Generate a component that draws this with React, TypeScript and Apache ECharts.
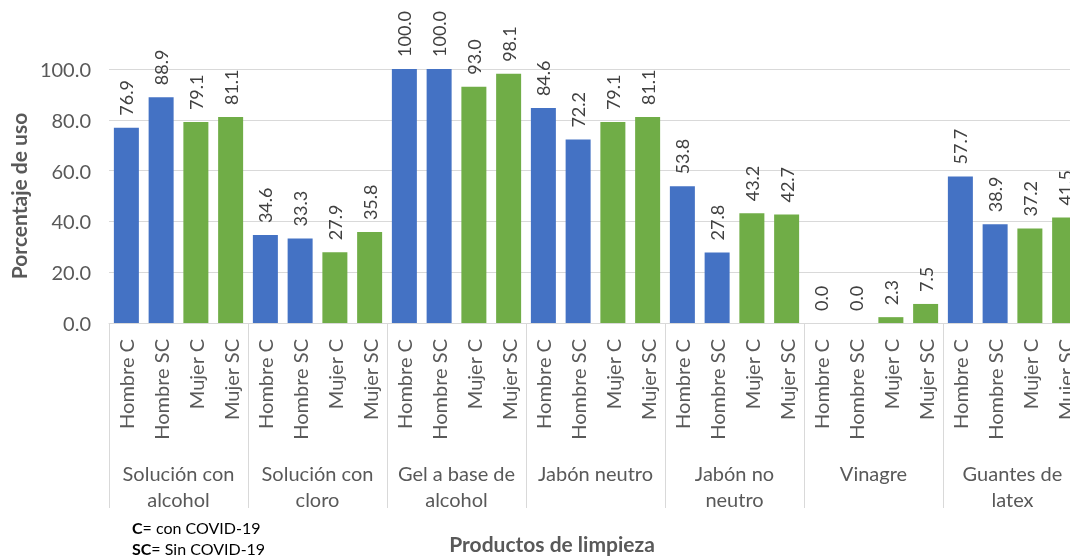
import React, { useEffect, useRef } from "react";
import * as echarts from "echarts";

// Product groups (outer category level)
const products = [
  "Solución con\nalcohol",
  "Solución con\ncloro",
  "Gel a base de\nalcohol",
  "Jabón neutro",
  "Jabón no\nneutro",
  "Vinagre",
  "Guantes de\nlatex",
];

// Respondent groups (inner category level)
const subgroups = ["Hombre C", "Hombre SC", "Mujer C", "Mujer SC"];

// Percentage of use per product, one array per respondent group
const hombreC = [76.9, 34.6, 100.0, 84.6, 53.8, 0.0, 57.7];
const hombreSC = [88.9, 33.3, 100.0, 72.2, 27.8, 0.0, 38.9];
const mujerC = [79.1, 27.9, 93.0, 79.1, 43.2, 2.3, 37.2];
const mujerSC = [81.1, 35.8, 98.1, 81.1, 42.7, 7.5, 41.5];

const yTicks = { min: 0, max: 100, interval: 20 };

const BLUE = "#4472C4";
const GREEN = "#70AD47";
const FONT = "Lato, 'Noto Sans', sans-serif";

export default function App() {
  const ref = useRef<HTMLDivElement>(null);

  useEffect(() => {
    document.body.style.margin = "0";
    if (!ref.current) return;
    const chart = echarts.init(ref.current, null, { renderer: "svg" });

    const bySub = [hombreC, hombreSC, mujerC, mujerSC];
    const innerCats: string[] = [];
    const values: number[] = [];
    products.forEach((_, pi) => {
      subgroups.forEach((s, si) => {
        innerCats.push(s);
        values.push(bySub[si][pi]);
      });
    });

    chart.setOption({
      animation: false,
      textStyle: { fontFamily: FONT },
      grid: {
        left: 109,
        top: 69,
        width: 973,
        height: 254,
        containLabel: false,
        outerBoundsMode: "none",
      },
      xAxis: [
        {
          type: "category",
          data: innerCats,
          position: "bottom",
          axisLine: { show: true, lineStyle: { color: "#d9d9d9", width: 1 } },
          axisTick: { show: false },
          axisLabel: {
            interval: 0,
            rotate: 90,
            margin: 16,
            fontSize: 20,
            color: "#595959",
            fontFamily: FONT,
          },
        },
        {
          type: "category",
          data: products,
          position: "bottom",
          offset: 0,
          axisLine: { show: false },
          axisTick: {
            show: true,
            length: 185,
            lineStyle: { color: "#d9d9d9", width: 1 },
          },
          axisLabel: {
            interval: 0,
            margin: 137,
            fontSize: 20,
            lineHeight: 26,
            color: "#595959",
            fontFamily: FONT,
          },
        },
      ],
      yAxis: {
        type: "value",
        min: yTicks.min,
        max: yTicks.max,
        interval: yTicks.interval,
        name: "Porcentaje de uso",
        nameLocation: "middle",
        nameRotate: 90,
        nameGap: 80,
        nameTextStyle: {
          fontSize: 21,
          fontWeight: "bold",
          color: "#595959",
          fontFamily: FONT,
        },
        axisLine: { show: false },
        axisTick: { show: false },
        axisLabel: {
          margin: 18,
          fontSize: 20,
          color: "#595959",
          fontFamily: FONT,
          formatter: (v: number) => v.toFixed(1),
        },
        splitLine: { lineStyle: { color: "#d9d9d9", width: 1 } },
      },
      series: [
        {
          type: "bar",
          xAxisIndex: 0,
          data: values,
          barWidth: 25,
          itemStyle: {
            color: (p: any) => (p.dataIndex % 4 < 2 ? BLUE : GREEN),
          },
          label: {
            show: true,
            position: "top",
            rotate: 90,
            align: "left",
            verticalAlign: "middle",
            distance: 12,
            fontSize: 18,
            color: "#404040",
            fontFamily: FONT,
            formatter: (p: any) => Number(p.value).toFixed(1),
          },
        },
      ],
      graphic: [
        {
          type: "text",
          left: 132,
          top: 517,
          style: {
            text: "{b|C}= con COVID-19\n{b|SC}= Sin COVID-19",
            fontSize: 16,
            lineHeight: 21,
            fill: "#000",
            fontFamily: FONT,
            rich: {
              b: { fontWeight: "bold", fontSize: 16, fontFamily: FONT, fill: "#000" },
            },
          },
        },
        {
          type: "text",
          x: 552,
          y: 543,
          style: {
            text: "Productos de limpieza",
            fontSize: 21,
            fontWeight: "bold",
            fill: "#595959",
            fontFamily: FONT,
            align: "center",
            verticalAlign: "middle",
          },
        },
      ],
    });

    return () => chart.dispose();
  }, []);

  return (
    <div
      ref={ref}
      style={{ position: "fixed", left: 0, top: 0, width: 1070, height: 557 }}
    />
  );
}
